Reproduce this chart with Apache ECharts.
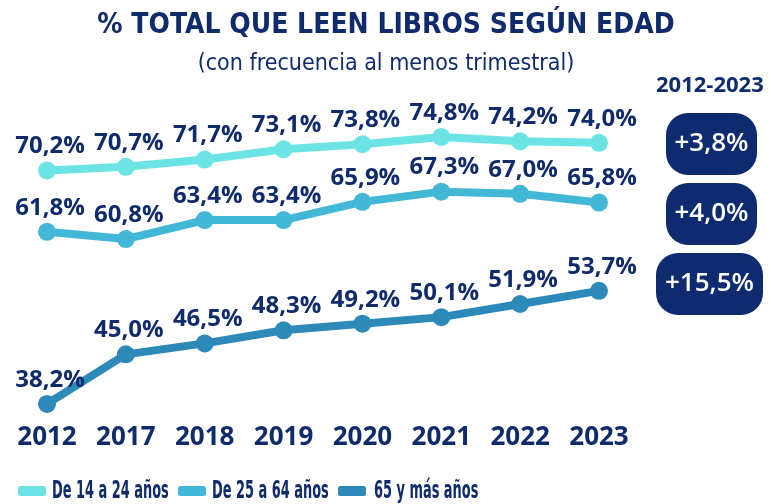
<!DOCTYPE html>
<html>
<head>
<meta charset="utf-8">
<script src="https://cdn.jsdelivr.net/npm/echarts@6/dist/echarts.min.js"></script>
<style>
  html, body { margin: 0; padding: 0; background: #fff; }
  #chart { width: 771px; height: 504px; }
</style>
</head>
<body>
<div id="chart"></div>
<script>
// datos
const years = ['2012', '2017', '2018', '2019', '2020', '2021', '2022', '2023']
const jovenes = [70.2, 70.7, 71.7, 73.1, 73.8, 74.8, 74.2, 74.0]
const adultos = [61.8, 60.8, 63.4, 63.4, 65.9, 67.3, 67.0, 65.8]
const mayores = [38.2, 45.0, 46.5, 48.3, 49.2, 50.1, 51.9, 53.7]
const seriesNames = ['De 14 a 24 años', 'De 25 a 64 años', '65 y más años']
const cambios = ['+3,8%', '+4,0%', '+15,5%']

const navy = '#0f2b6c'
const colors = ['#6ce4e6', '#42b8d6', '#2d89b7']
const narrow = "'DejaVu Sans Condensed', sans-serif"

const fmt = p => p.value.toFixed(1).replace('.', ',') + '%'

function makeSerie(name, data, color) {
  return {
    name: name,
    type: 'line',
    data: data,
    symbol: 'circle',
    symbolSize: 18,
    lineStyle: { width: 8, color: color },
    itemStyle: { color: color },
    label: {
      show: true,
      position: 'top',
      distance: 3,
      offset: [3, 0],
      formatter: fmt,
      color: navy,
      fontFamily: 'Open Sans',
      fontWeight: 'bold',
      fontSize: 24
    }
  }
}

// badges (+x,x%) a la derecha
const badges = [
  { x: 666, y: 113, w: 91, h: 62 },
  { x: 666, y: 183, w: 91, h: 62 },
  { x: 656, y: 253, w: 107, h: 62 }
]
const graphic = [{
  type: 'text',
  left: 656,
  top: 75,
  style: { text: '2012-2023', fill: navy, font: "bold 22px 'Open Sans'" }
}]
badges.forEach((b, i) => {
  graphic.push({
    type: 'group',
    left: b.x,
    top: b.y,
    children: [
      { type: 'rect', shape: { x: 0, y: 0, width: b.w, height: b.h, r: 22 }, style: { fill: '#0d2b6e' } },
      {
        type: 'text',
        x: b.w / 2,
        y: b.h / 2,
        style: { text: cambios[i], fill: '#fff', font: "600 26px 'Open Sans'", align: 'center', verticalAlign: 'middle' }
      }
    ]
  })
})

// leyenda: iconos con el componente legend, textos estrechos aparte
const legendX = [18, 178, 338]
const legendTextX = [52, 212, 374]
const legends = seriesNames.map((name, i) => ({
  data: [name],
  left: legendX[i],
  top: 486,
  padding: 0,
  icon: 'roundRect',
  itemWidth: 28,
  itemHeight: 10,
  formatter: () => ''
}))
seriesNames.forEach((name, i) => {
  graphic.push({
    type: 'text',
    x: legendTextX[i],
    y: 491,
    scaleX: 0.575,
    style: { text: name, fill: navy, font: "bold 25px 'DejaVu Sans Condensed'", verticalAlign: 'middle' }
  })
})

const myChart = echarts.init(document.getElementById('chart'))
const option = {
  animation: false,
  title: {
    text: '% TOTAL QUE LEEN LIBROS SEGÚN EDAD',
    subtext: '(con frecuencia al menos trimestral)',
    left: 381,
    top: 7,
    textAlign: 'center',
    itemGap: 13,
    textStyle: { color: navy, fontFamily: narrow, fontWeight: 'bold', fontSize: 28 },
    subtextStyle: { color: navy, fontFamily: narrow, fontSize: 23 }
  },
  legend: legends,
  grid: { left: 47, right: 172, top: 99, bottom: 84 },
  xAxis: {
    type: 'category',
    data: years,
    boundaryGap: false,
    axisLine: { show: false },
    axisTick: { show: false },
    axisLabel: {
      margin: 5,
      color: navy,
      fontFamily: 'Open Sans',
      fontWeight: 'bold',
      fontSize: 26
    }
  },
  yAxis: {
    type: 'value',
    min: 36,
    max: 80,
    show: false,
    splitLine: { show: false }
  },
  graphic: graphic,
  series: [
    makeSerie(seriesNames[0], jovenes, colors[0]),
    makeSerie(seriesNames[1], adultos, colors[1]),
    makeSerie(seriesNames[2], mayores, colors[2])
  ]
}
option && myChart.setOption(option)
</script>
</body>
</html>
